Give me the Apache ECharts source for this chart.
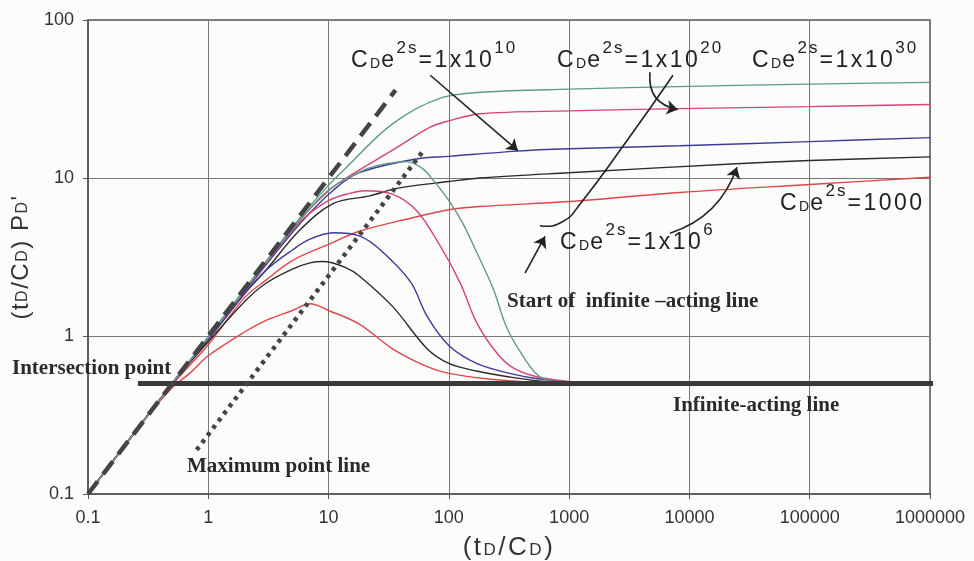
<!DOCTYPE html>
<html>
<head>
<meta charset="utf-8">
<script src="https://cdn.jsdelivr.net/npm/echarts@6/dist/echarts.min.js"></script>
<style>
html, body { margin: 0; padding: 0; background: #fcfcfa; }
#chart { width: 974px; height: 561px; }
</style>
</head>
<body>
<div id="chart"></div>
<script>
// decade ticks shared by both log axes
var xTicks = [0.1, 1, 10, 100, 1000, 10000, 100000, 1000000];
var yTicks = [0.1, 1, 10, 100];

// pressure curves PD (upper, flattening)
var redPd = [[0.1,0.1],[0.5,0.49],[1,0.88],[2,1.75],[3,2.25],[5,3.0],[10,3.8],[18,4.6],[50,5.6],[100,6.3],[180,6.6],[1000,7.1],[8300,8.1],[100000,9.1],[1000000,10.1]];
var blackPd = [[0.1,0.1],[0.5,0.5],[1,0.95],[2,1.85],[3,2.6],[5.8,4.7],[11,6.9],[22,7.7],[37,8.6],[100,9.5],[180,10],[1000,10.8],[24500,12.3],[100000,12.9],[1000000,13.6]];
var bluePd = [[0.1,0.1],[0.5,0.5],[1,0.97],[3,2.8],[6,5.3],[11,8.4],[18,10.8],[54,13.2],[100,13.7],[370,14.8],[1000,15.3],[8300,16],[100000,17],[1000000,18]];
var pinkPd = [[0.1,0.1],[0.5,0.5],[1,0.98],[3,2.9],[6,5.6],[10,8.3],[14,10],[34,15],[70,21],[100,23],[182,25.5],[1000,26.6],[8300,27.5],[100000,28.3],[1000000,29.2]];
var tealPd = [[0.1,0.1],[0.5,0.5],[1,0.99],[3,2.95],[6,5.8],[10,9.0],[13,11],[34,22],[85,32],[200,35],[1000,36.5],[10000,38],[100000,39.3],[1000000,40.3]];

// derivative curves (tD/CD)PD' (humped, falling to 0.5)
var redDer = [[0.1,0.1],[0.3,0.3],[0.5,0.47],[0.7,0.58],[1,0.75],[2,1.06],[3,1.25],[5,1.45],[7,1.6],[10,1.45],[18,1.19],[34,0.83],[66,0.64],[100,0.58],[235,0.53],[500,0.51],[1000,0.5]];
var blackDer = [[0.1,0.1],[0.5,0.5],[1,0.92],[2,1.65],[3,2.15],[5,2.65],[7,2.9],[9,2.96],[14,2.7],[18,2.4],[34,1.54],[66,0.83],[100,0.67],[170,0.6],[320,0.55],[700,0.51],[1500,0.5]];
var blueDer = [[0.1,0.1],[0.5,0.5],[1,0.95],[2,1.85],[3,2.6],[5,3.5],[7,4.1],[11,4.5],[18,4.3],[27,3.5],[48,2.2],[66,1.33],[100,0.87],[170,0.67],[320,0.58],[600,0.53],[1500,0.5]];
var pinkDer = [[0.1,0.1],[0.5,0.5],[1,0.97],[3,2.85],[6,5.4],[10,7.2],[15,8.0],[20,8.3],[34,7.9],[54,6.2],[85,3.7],[124,2.17],[170,1.22],[235,0.83],[320,0.65],[500,0.56],[900,0.52],[2000,0.5]];
var tealDer = [[0.1,0.1],[0.5,0.5],[1,0.98],[3,2.9],[6,5.6],[10,8.4],[20,11.3],[30,12.3],[45,12.7],[60,11.5],[74,9.7],[100,7.2],[130,5.2],[170,3.4],[235,1.97],[300,1.15],[390,0.8],[530,0.58],[700,0.52],[1500,0.5]];

// straight guide lines
var unitSlope = [[0.1,0.1],[36,36]];
var maxPointLine = [[0.8,0.19],[63,15.3]];
var infiniteActing = [[0.26,0.5],[1150000,0.5]];

// annotation pointers (data coordinates)
var arrow10 = [[70,44.7],[375,14.9]];
var arrow20 = [[4700,46.7],[8000,27.1]];
var arrow6 = [[6890,4.47],[24800,11.7]];
var arrowStart = [[430,2.5],[630,4.27]];
var startCurve = [[7300,44.7],[3020,17.2],[1230,6.83],[887,5.3],[605,4.95],[571,5.0]];

var C = { red: '#e0454c', black: '#2b2b2b', blue: '#3b3b9a', pink: '#d5437a', teal: '#5f9c88' };

function curve(data, color) {
    return {
        type: 'line',
        data: data,
        smooth: 0.35,
        showSymbol: false,
        silent: true,
        lineStyle: { width: 1.4, color: color },
        z: 3
    };
}
function pointer(coords, curveness) {
    return {
        type: 'lines',
        coordinateSystem: 'cartesian2d',
        silent: true,
        symbol: ['none', 'arrow'],
        symbolSize: 11,
        lineStyle: { color: '#222', width: 1.6, curveness: curveness, opacity: 1 },
        data: [{ coords: coords }],
        z: 6
    };
}

// rich-text tokens; spread=true puts each character in its own padded token (letter spacing)
function tok(style, str, spread) {
    if (!spread) return '{' + style + '|' + str + '}';
    return str.split('').map(function (c) { return '{' + style + '|' + c + '}'; }).join('');
}

var fmt = function (v) { return String(+v.toPrecision(6)); };
var sans = '"Liberation Sans", Arial, sans-serif';
var serif = '"Liberation Serif", "Times New Roman", serif';

var formulaRich = {
    n: { fontSize: 23, fontFamily: sans, fill: '#222', lineHeight: 32, padding: [0, 2.5, 0, 0], verticalAlign: 'bottom' },
    s: { fontSize: 14, fontFamily: sans, fill: '#222', padding: [0, 1, 1, 0], verticalAlign: 'bottom' },
    p: { fontSize: 17, fontFamily: sans, fill: '#222', padding: [0, 2, 0, 0], verticalAlign: 'top' }
};
function cde(tail, sup) {
    return tok('n', 'C', 1) + tok('s', 'D') + tok('n', 'e', 1) + tok('p', '2s', 1) +
        tok('n', tail, 1) + (sup ? tok('p', sup, 1) : '');
}
function formula(text, left, top) {
    return { type: 'text', left: left, top: top, z: 10, silent: true,
        style: { text: text, rich: formulaRich } };
}
function note(text, left, top) {
    return { type: 'text', left: left, top: top, z: 10, silent: true,
        style: { text: text, font: 'bold 21px ' + serif, fill: '#2a2a2a' } };
}

var chart = echarts.init(document.getElementById('chart'));
chart.setOption({
    backgroundColor: '#fcfcfa',
    animation: false,
    grid: { left: 88, right: 44, top: 20, bottom: 67, outerBoundsMode: 'none', containLabel: false,
        show: true, borderColor: '#555', borderWidth: 1.5 },
    xAxis: {
        type: 'log', logBase: 10, min: xTicks[0], max: xTicks[xTicks.length - 1],
        splitNumber: xTicks.length - 1,
        name: tok('n', '(t', 1) + tok('s', 'D') + tok('n', '/C', 1) + tok('s', 'D') + tok('n', ')'),
        nameLocation: 'middle', nameGap: 41,
        nameTextStyle: { rich: {
            n: { fontSize: 26, fontFamily: sans, color: '#333', verticalAlign: 'bottom', lineHeight: 26, padding: [0, 2.5, 0, 0] },
            s: { fontSize: 17, fontFamily: sans, color: '#333', verticalAlign: 'bottom', lineHeight: 17, padding: [0, 2.5, 2, 0] }
        } },
        axisLine: { lineStyle: { color: '#555', width: 1.5 } },
        axisTick: { show: true, length: 5, lineStyle: { color: '#555' } },
        axisLabel: { formatter: fmt, fontSize: 18, fontFamily: sans, color: '#333', margin: 15 },
        splitLine: { show: true, lineStyle: { color: '#787878', width: 1 } },
        minorTick: { show: false }
    },
    yAxis: {
        type: 'log', logBase: 10, min: yTicks[0], max: yTicks[yTicks.length - 1],
        splitNumber: yTicks.length - 1,
        name: tok('n', '(t', 1) + tok('s', 'D') + tok('n', '/C', 1) + tok('s', 'D') + tok('n', ') P', 1) + tok('s', 'D') + tok('n', '\''),
        nameLocation: 'middle', nameGap: 46, nameRotate: 90,
        nameTextStyle: { rich: {
            n: { fontSize: 24, fontFamily: sans, color: '#333', verticalAlign: 'bottom', lineHeight: 24, padding: [0, 1.5, 0, 0] },
            s: { fontSize: 16, fontFamily: sans, color: '#333', verticalAlign: 'bottom', lineHeight: 16, padding: [0, 1.5, 2, 0] }
        } },
        axisLine: { lineStyle: { color: '#555', width: 1.5 } },
        axisTick: { show: true, length: 5, lineStyle: { color: '#555' } },
        axisLabel: { formatter: fmt, fontSize: 18, fontFamily: sans, color: '#333', margin: 14 },
        splitLine: { show: true, lineStyle: { color: '#787878', width: 1 } }
    },
    series: [
        curve(redPd, C.red), curve(blackPd, C.black), curve(bluePd, C.blue), curve(pinkPd, C.pink), curve(tealPd, C.teal),
        curve(redDer, C.red), curve(blackDer, C.black), curve(blueDer, C.blue), curve(pinkDer, C.pink), curve(tealDer, C.teal),
        { type: 'line', data: unitSlope, showSymbol: false, silent: true, z: 5,
          lineStyle: { color: '#444', width: 4.5, type: [16, 9] } },
        { type: 'line', data: maxPointLine, showSymbol: false, silent: true, z: 5,
          lineStyle: { color: '#444', width: 4.5, type: [4, 5] } },
        { type: 'line', data: infiniteActing, showSymbol: false, silent: true, clip: false, z: 4,
          lineStyle: { color: '#3a3a3a', width: 5 } },
        { type: 'line', data: startCurve, smooth: 0.5, showSymbol: false, silent: true, z: 6,
          lineStyle: { color: '#222', width: 1.6 } },
        pointer(arrow10, 0),
        pointer(arrow20, -0.45),
        pointer(arrow6, -0.25),
        pointer(arrowStart, 0)
    ],
    graphic: [
        formula(cde('=1x10', '10'), 351, 40),
        formula(cde('=1x10', '20'), 557, 40),
        formula(cde('=1x10', '30'), 752, 40),
        formula(cde('=1000'), 780, 183),
        formula(cde('=1x10', '6'), 560, 222),
        note('Start of  infinite \u2013acting line', 507, 291),
        note('Intersection point', 12, 358),
        note('Maximum point line', 187, 456),
        note('Infinite-acting line', 673, 395)
    ]
});
</script>
</body>
</html>
